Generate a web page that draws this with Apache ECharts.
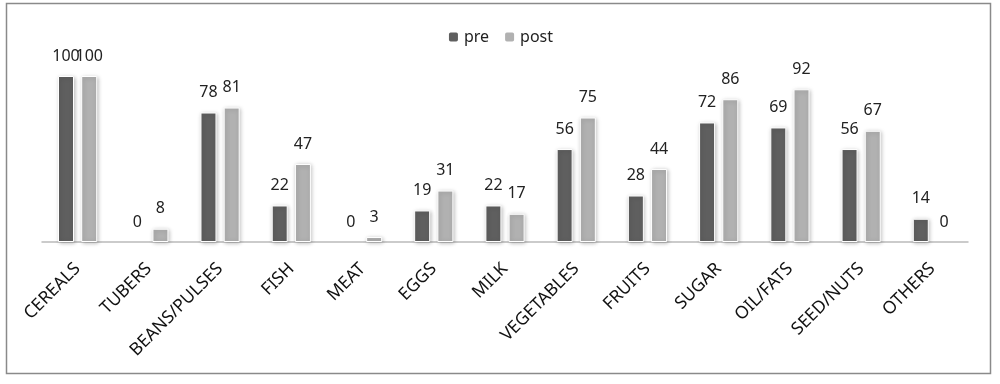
<!DOCTYPE html>
<html><head><meta charset="utf-8">
<script src="https://cdn.jsdelivr.net/npm/echarts@6/dist/echarts.min.js"></script>
<style>html,body{margin:0;padding:0;background:#fff}#c{width:1000px;height:384px}</style>
</head><body><div id="c"></div>
<script>
const categories = ["CEREALS","TUBERS","BEANS/PULSES","FISH","MEAT","EGGS","MILK","VEGETABLES","FRUITS","SUGAR","OIL/FATS","SEED/NUTS","OTHERS"];
const preValues = [100,0,78,22,0,19,22,56,28,72,69,56,14];
const postValues = [100,8,81,47,3,31,17,75,44,86,92,67,0];
const seriesNames = ["pre","post"];

const chart = echarts.init(document.getElementById('c'));
const font = "'Noto Sans', sans-serif";
function bar(name, data, color) {
  return {
    name, type: 'bar',
    data: data.map(v => v === 0 ? { value: v, itemStyle: { shadowBlur: 0, borderWidth: 0, shadowColor: 'transparent' } } : v),
    barWidth: 16, barGap: '45%',
    itemStyle: { color, borderColor: '#fff', borderWidth: 1, shadowBlur: 4, shadowColor: 'rgba(0,0,0,0.25)', shadowOffsetX: 1, shadowOffsetY: 1 },
    label: { show: true, position: 'top', distance: 12, color: '#222', fontSize: 16, fontFamily: font }
  };
}
chart.setOption({
  animation: false,
  graphic: [{ type: 'rect', shape: { x: 6.5, y: 3.5, width: 984, height: 370 }, style: { fill: 'none', stroke: '#8a8a8a', lineWidth: 1.5 } }],
  legend: {
    top: 24, left: 'center', itemWidth: 11, itemHeight: 11, itemGap: 14,
    textStyle: { fontSize: 16, color: '#222', fontFamily: font },
    data: seriesNames
  },
  grid: { left: 42, right: 32, top: 76, bottom: 142 },
  xAxis: {
    type: 'category', data: categories,
    axisLine: { lineStyle: { color: '#bbb', width: 1.5 } },
    axisTick: { show: false },
    axisLabel: { rotate: 45, interval: 0, fontSize: 17.5, color: '#111', fontFamily: font, margin: 24 }
  },
  yAxis: { type: 'value', min: 0, max: 100, show: false, splitLine: { show: false } },
  series: [bar(seriesNames[0], preValues, '#5f5f5f'), bar(seriesNames[1], postValues, '#b1b1b1')]
});
</script></body></html>
